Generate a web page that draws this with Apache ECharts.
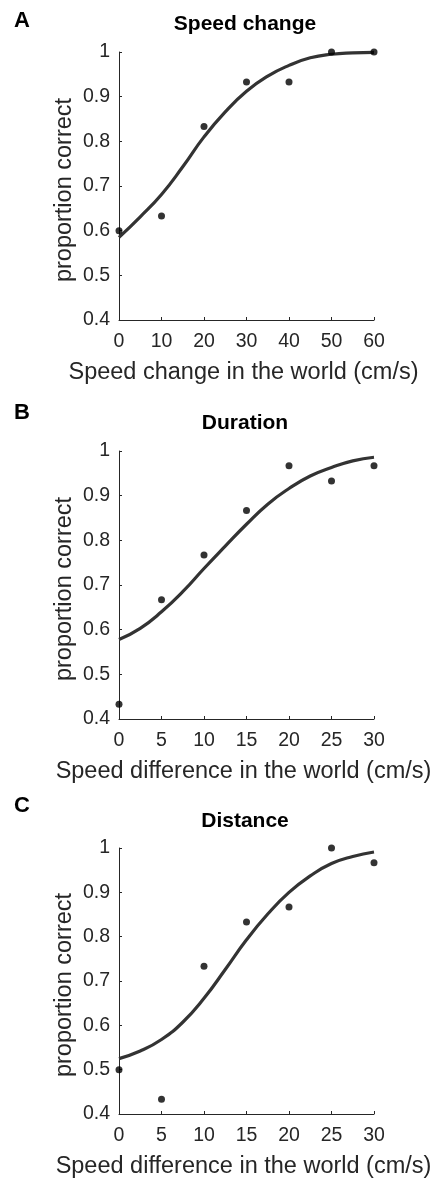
<!DOCTYPE html>
<html>
<head>
<meta charset="utf-8">
<title>Proportion correct vs speed difference</title>
<script src="https://cdn.jsdelivr.net/npm/echarts@6/dist/echarts.min.js"></script>
<style>
  html, body { margin: 0; padding: 0; background: #fff; }
  #chart { width: 435px; height: 1180px; }
</style>
</head>
<body>
<div id="chart"></div>
<script>
// Panel A: speed change
const speedChangeX = [0, 10, 20, 30, 40, 50, 60];
const speedChangeP = [0.600, 0.633, 0.833, 0.933, 0.933, 1.000, 1.000];
const speedChangeFitX = [0, 5, 10, 15, 20, 25, 30, 35, 40, 45, 50, 55, 60];
const speedChangeFitP = [0.585, 0.631, 0.681, 0.743, 0.810, 0.866, 0.912, 0.946, 0.970, 0.987, 0.995, 0.998, 0.999];

// Panel B: duration
const durationX = [0, 5, 10, 15, 20, 25, 30];
const durationP = [0.433, 0.667, 0.767, 0.867, 0.967, 0.933, 0.967];
const durationFitX = [0, 2.5, 5, 7.5, 10, 12.5, 15, 17.5, 20, 22.5, 25, 27.5, 30];
const durationFitP = [0.578, 0.603, 0.640, 0.685, 0.737, 0.787, 0.836, 0.881, 0.916, 0.944, 0.963, 0.978, 0.986];

// Panel C: distance
const distanceX = [0, 5, 10, 15, 20, 25, 30];
const distanceP = [0.500, 0.433, 0.733, 0.833, 0.867, 1.000, 0.967];
const distanceFitX = [0, 2.5, 5, 7.5, 10, 12.5, 15, 17.5, 20, 22.5, 25, 27.5, 30];
const distanceFitP = [0.525, 0.542, 0.568, 0.607, 0.661, 0.726, 0.793, 0.851, 0.900, 0.937, 0.965, 0.981, 0.991];

// Axis ranges and panel text
const panelLetters = ['A', 'B', 'C'];
const panelTitles = ['Speed change', 'Duration', 'Distance'];
const xAxisNames = ['Speed change in the world (cm/s)', 'Speed difference in the world (cm/s)', 'Speed difference in the world (cm/s)'];
const yAxisName = 'proportion correct';
const xMaxes = [60, 30, 30];
const xIntervals = [10, 5, 5];
const yMin = 0.4, yMax = 1, yInterval = 0.1;

const FONT = '"Liberation Sans", Arial, Helvetica, sans-serif';
const INK = '#262626';

const panels = [
  { x: speedChangeX, p: speedChangeP, fx: speedChangeFitX, fp: speedChangeFitP },
  { x: durationX, p: durationP, fx: durationFitX, fp: durationFitP },
  { x: distanceX, p: distanceP, fx: distanceFitX, fp: distanceFitP }
];

const gridTops = [52, 451, 848];
const GRID_LEFT = 119, GRID_W = 255, GRID_H = 268;
const titleY = [24, 423, 821];
const letterY = [21, 413, 806];

const pairs = (xs, ys) => xs.map((v, i) => [v, ys[i]]);

const grid = gridTops.map(t => ({ left: GRID_LEFT, top: t, width: GRID_W, height: GRID_H, containLabel: false }));

const xAxis = panels.map((_, i) => ({
  type: 'value', gridIndex: i, min: 0, max: xMaxes[i], interval: xIntervals[i],
  name: xAxisNames[i], nameLocation: 'middle', nameGap: 41, nameMoveOverlap: false,
  nameTextStyle: { fontFamily: FONT, fontSize: 23.5, color: INK, padding: [0, 6, 0, 0] },
  axisLine: { onZero: false, lineStyle: { color: INK, width: 1 } },
  axisTick: { inside: true, length: 3, lineStyle: { color: INK } },
  axisLabel: { fontFamily: FONT, fontSize: 19.5, color: INK, margin: 12 },
  splitLine: { show: false }
}));

const yAxis = panels.map((_, i) => ({
  type: 'value', gridIndex: i, min: yMin, max: yMax, interval: yInterval,
  name: yAxisName, nameLocation: 'middle', nameGap: 42, nameRotate: 90, nameMoveOverlap: false,
  nameTextStyle: { fontFamily: FONT, fontSize: 23.5, color: INK, padding: [0, 8, 0, 0] },
  axisLine: { show: true, onZero: false, lineStyle: { color: INK, width: 1 } },
  axisTick: { show: true, inside: true, length: 3, lineStyle: { color: INK } },
  axisLabel: { fontFamily: FONT, fontSize: 19.5, color: INK, margin: 9 },
  splitLine: { show: false }
}));

const series = [];
panels.forEach((d, i) => {
  series.push({
    type: 'line', xAxisIndex: i, yAxisIndex: i,
    data: pairs(d.fx, d.fp), smooth: 0.5,
    showSymbol: false, clip: false,
    lineStyle: { color: '#333333', width: 3.2 }, z: 2
  });
  series.push({
    type: 'scatter', xAxisIndex: i, yAxisIndex: i,
    data: pairs(d.x, d.p), symbol: 'circle', symbolSize: 7, clip: false,
    itemStyle: { color: '#000000' }, z: 3
  });
});

const graphic = [];
panels.forEach((_, i) => {
  graphic.push({
    type: 'text', x: 14, y: letterY[i],
    style: { text: panelLetters[i], font: 'bold 22px ' + FONT, fill: '#000', align: 'left', verticalAlign: 'middle' }
  });
  graphic.push({
    type: 'text', x: 245, y: titleY[i],
    style: { text: panelTitles[i], font: 'bold 21px ' + FONT, fill: '#000', align: 'center', verticalAlign: 'middle' }
  });
});

const chart = echarts.init(document.getElementById('chart'), null, { renderer: 'canvas' });
chart.setOption({
  animation: false,
  backgroundColor: '#ffffff',
  grid, xAxis, yAxis, series, graphic
});
</script>
</body>
</html>
